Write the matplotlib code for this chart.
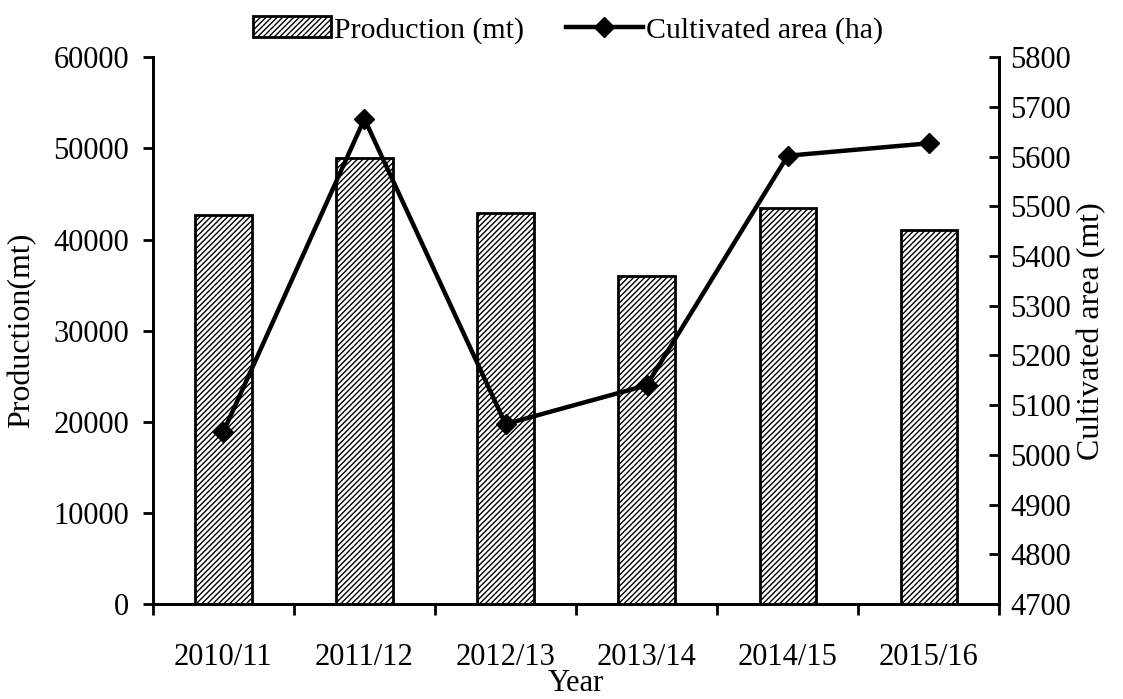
import matplotlib.pyplot as plt
import numpy as np

years = ['2010/11', '2011/12', '2012/13', '2013/14', '2014/15', '2015/16']
production = [42700, 49000, 42900, 36000, 43500, 41100]
area = [5046, 5676, 5062, 5140, 5602, 5627]

plt.rcParams['font.family'] = 'Liberation Serif'
plt.rcParams['hatch.linewidth'] = 1.0

fig = plt.figure(figsize=(11.23, 6.99), dpi=100)
ax = fig.add_axes([0.136, 0.136, 0.754, 0.782])
ax2 = ax.twinx()

x = np.arange(len(years))
bars = ax.bar(x, production, width=0.4, color='white', edgecolor='black',
              linewidth=2, hatch='//////', label='Production (mt)')
line, = ax2.plot(x, area, color='black', lw=3.2, marker='D', markersize=10,
                 label='Cultivated area (ha)')

ax.set_xlim(-0.5, len(years) - 0.5)
ax.set_ylim(0, 60000)
ax.set_yticks(range(0, 60001, 10000))
ax2.set_ylim(4700, 5800)
ax2.set_yticks(range(4700, 5801, 100))

ax.set_xticks(x)
ax.set_xticklabels(years)
ax.set_xticks(np.arange(-0.5, len(years)), minor=True)
ax.tick_params(axis='x', which='major', length=0, pad=28, labelsize=22)
ax.tick_params(axis='x', which='minor', length=8, width=2, direction='out')
ax.tick_params(axis='y', length=7, width=2, direction='out', labelsize=22, pad=10)
ax2.tick_params(axis='y', length=7, width=2, direction='in', labelsize=22, pad=8)

for a in (ax, ax2):
    a.spines['top'].set_visible(False)
    for s in ['left', 'bottom', 'right']:
        a.spines[s].set_linewidth(2)

ax.set_ylabel('Production(mt)', fontsize=23, labelpad=12)
ax2.set_ylabel('Cultivated area (mt)', fontsize=23, labelpad=4)
ax.set_xlabel('Year', fontsize=22, labelpad=-2)

fig.legend([bars, line], ['Production (mt)', 'Cultivated area (ha)'],
           loc='upper center', bbox_to_anchor=(0.506, 1.015), ncol=2, frameon=False,
           fontsize=21.5, handlelength=2.6, columnspacing=1.4, handletextpad=0.1)

fig.savefig('out.png', dpi=100)
